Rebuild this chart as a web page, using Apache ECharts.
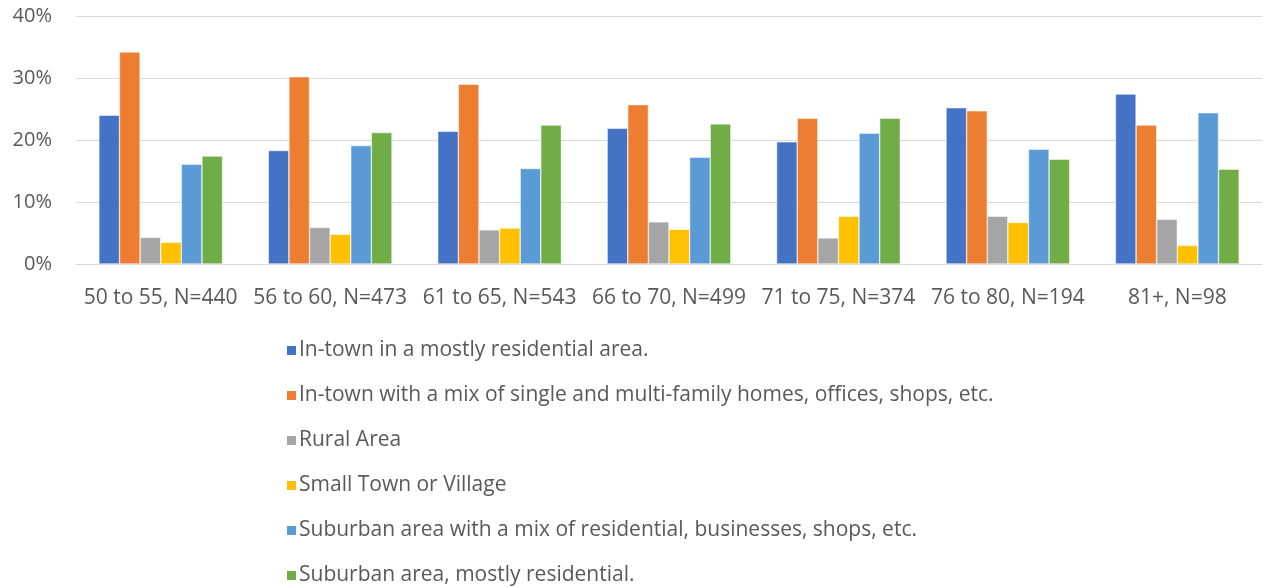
<!DOCTYPE html>
<html>
<head>
<meta charset="utf-8">
<script src="https://cdn.jsdelivr.net/npm/echarts@6/dist/echarts.min.js"></script>
<style>
  html, body { margin: 0; padding: 0; background: #fff; }
  #main { width: 1264px; height: 588px; }
</style>
</head>
<body>
<div id="main"></div>
<script>
// age groups on the x axis
const categories = [
  "50 to 55, N=440",
  "56 to 60, N=473",
  "61 to 65, N=543",
  "66 to 70, N=499",
  "71 to 75, N=374",
  "76 to 80, N=194",
  "81+, N=98"
];

// shares in percent
const inTownResidential = [24.0, 18.3, 21.4, 21.9, 19.7, 25.2, 27.4];
const inTownMixed = [34.2, 30.2, 29.0, 25.7, 23.5, 24.7, 22.4];
const ruralArea = [4.3, 5.9, 5.5, 6.8, 4.2, 7.7, 7.2];
const smallTown = [3.5, 4.8, 5.8, 5.6, 7.7, 6.7, 3.0];
const suburbanMixed = [16.1, 19.1, 15.4, 17.2, 21.1, 18.5, 24.4];
const suburbanResidential = [17.4, 21.2, 22.4, 22.6, 23.5, 16.9, 15.3];

const seriesNames = [
  "In-town in a mostly residential area.",
  "In-town with a mix of single and multi-family homes, offices, shops, etc.",
  "Rural Area",
  "Small Town or Village",
  "Suburban area with a mix of residential, businesses, shops, etc.",
  "Suburban area, mostly residential."
];
const seriesData = [inTownResidential, inTownMixed, ruralArea, smallTown, suburbanMixed, suburbanResidential];

const font = "Open Sans";
const textColor = "#595959";

let myChart = echarts.init(document.getElementById("main"));
let option = {
  animation: false,
  color: ["#4472C4", "#ED7D31", "#A5A5A5", "#FFC000", "#5B9BD5", "#70AD47"],
  textStyle: { fontFamily: font },
  grid: {
    left: 76,
    right: 2,
    top: 16,
    bottom: 324
  },
  legend: {
    orient: "vertical",
    left: 285,
    top: 340,
    height: 248,
    padding: 0,
    itemWidth: 11,
    itemHeight: 11,
    itemGap: 24,
    icon: "rect",
    textStyle: { color: textColor, fontSize: 21, fontFamily: font, padding: [0, 0, 0, -3] },
    data: seriesNames
  },
  xAxis: {
    type: "category",
    data: categories,
    axisLine: { lineStyle: { color: "#d9d9d9", width: 1 } },
    axisTick: { show: false },
    axisLabel: { color: textColor, fontSize: 21, margin: 24, interval: 0 }
  },
  yAxis: {
    type: "value",
    min: 0,
    max: 40,
    interval: 10,
    axisLine: { show: false },
    axisTick: { show: false },
    splitLine: { lineStyle: { color: "#d9d9d9", width: 1 } },
    axisLabel: { color: textColor, fontSize: 20, margin: 24, formatter: "{value}%" }
  },
  series: seriesNames.map((name, i) => ({
    name: name,
    type: "bar",
    data: seriesData[i],
    barGap: "0%",
    barCategoryGap: "27%",
    itemStyle: { borderColor: "#fff", borderWidth: 0.5 }
  }))
};
myChart.setOption(option);
</script>
</body>
</html>
